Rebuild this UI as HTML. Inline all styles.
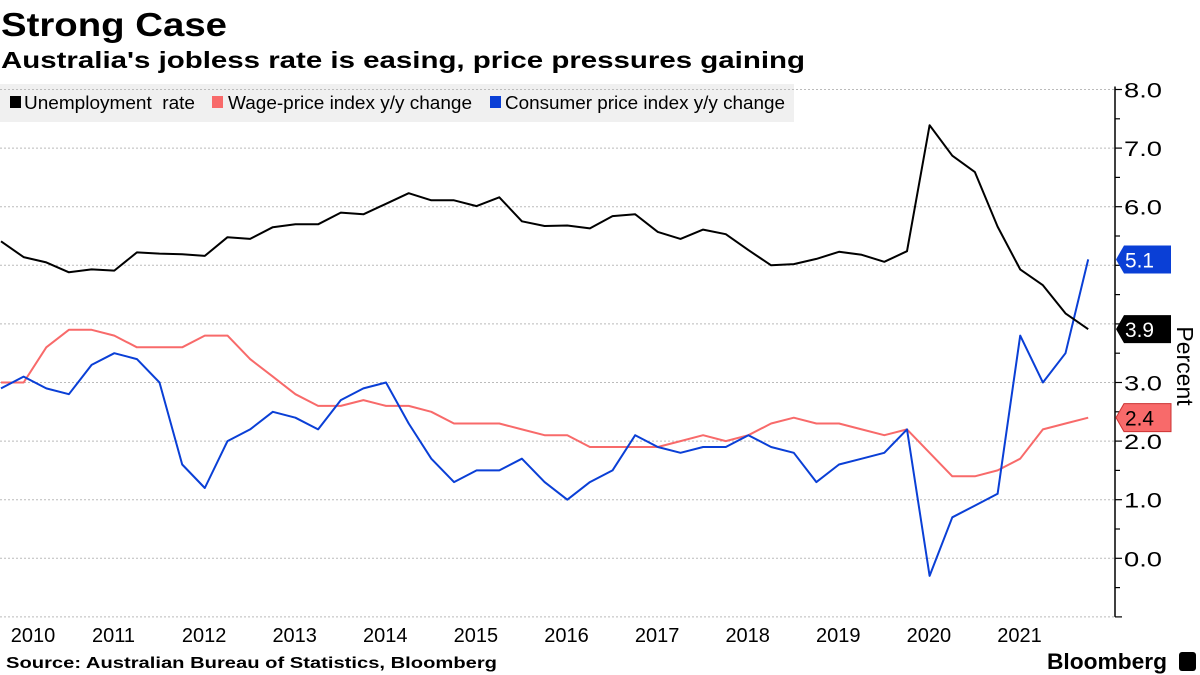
<!DOCTYPE html>
<html><head><meta charset="utf-8">
<style>
body{margin:0;background:#fff;width:1200px;height:675px;overflow:hidden;font-family:"Liberation Sans",sans-serif;}
svg{display:block}
</style></head>
<body>
<svg id="chart" width="1200" height="675" xmlns="http://www.w3.org/2000/svg">
<text x="1" y="36" font-size="33" font-weight="bold" fill="#000" textLength="226" lengthAdjust="spacingAndGlyphs">Strong Case</text>
<text x="1" y="68" font-size="23" font-weight="bold" fill="#000" textLength="804" lengthAdjust="spacingAndGlyphs">Australia's jobless rate is easing, price pressures gaining</text>
<g>
<rect x="0" y="84" width="794" height="38" fill="#f0f0f0"/>
<rect x="10" y="96" width="11" height="12" fill="#000"/>
<text x="24" y="109" font-size="18" fill="#000" textLength="171" lengthAdjust="spacingAndGlyphs">Unemployment&#160; rate</text>
<rect x="212" y="96" width="11" height="12" fill="#f86a6a"/>
<text x="228" y="109" font-size="18" fill="#000" textLength="244" lengthAdjust="spacingAndGlyphs">Wage-price index y/y change</text>
<rect x="490" y="96" width="11" height="12" fill="#0a3fd6"/>
<text x="505" y="109" font-size="18" fill="#000" textLength="280" lengthAdjust="spacingAndGlyphs">Consumer price index y/y change</text>
</g>
<g id="grid"></g>
<g id="series"></g>
<g id="axis"></g>
<text transform="translate(1177,366) rotate(90)" font-size="23" text-anchor="middle" fill="#000">Percent</text>
<text x="6" y="668" font-size="16" font-weight="bold" fill="#000" textLength="491" lengthAdjust="spacingAndGlyphs">Source: Australian Bureau of Statistics, Bloomberg</text>
<text x="1047" y="669" font-size="22" font-weight="bold" fill="#000" textLength="120" lengthAdjust="spacingAndGlyphs">Bloomberg</text>
<rect x="1179" y="652" width="17" height="19" rx="3" fill="#000"/>
</svg>
<script>
const years = ["2010","2011","2012","2013","2014","2015","2016","2017","2018","2019","2020","2021"];
const yTicks = [-1,0,1,2,3,4,5,6,7,8];
const unemployment = [5.41,5.14,5.05,4.88,4.93,4.91,5.22,5.20,5.19,5.16,5.48,5.45,5.65,5.70,5.70,5.90,5.87,6.05,6.23,6.11,6.11,6.01,6.16,5.75,5.67,5.68,5.63,5.84,5.87,5.57,5.45,5.61,5.53,5.26,5.00,5.02,5.11,5.23,5.18,5.06,5.24,7.39,6.87,6.59,5.66,4.93,4.66,4.18,3.91];
const wage = [3.0,3.0,3.6,3.9,3.9,3.8,3.6,3.6,3.6,3.8,3.8,3.4,3.1,2.8,2.6,2.6,2.7,2.6,2.6,2.5,2.3,2.3,2.3,2.2,2.1,2.1,1.9,1.9,1.9,1.9,2.0,2.1,2.0,2.1,2.3,2.4,2.3,2.3,2.2,2.1,2.2,1.8,1.4,1.4,1.5,1.7,2.2,2.3,2.4];
const cpi = [2.9,3.1,2.9,2.8,3.3,3.5,3.4,3.0,1.6,1.2,2.0,2.2,2.5,2.4,2.2,2.7,2.9,3.0,2.3,1.7,1.3,1.5,1.5,1.7,1.3,1.0,1.3,1.5,2.1,1.9,1.8,1.9,1.9,2.1,1.9,1.8,1.3,1.6,1.7,1.8,2.2,-0.3,0.7,0.9,1.1,3.8,3.0,3.5,5.1];

const NS="http://www.w3.org/2000/svg";
const axisX=1115;
function yScale(v){return 558.3-58.6*v;}
function xScale(i){return 1+i*22.65;}
function yearX(k){return 113.5+(k-1)*90.6;}
function mk(tag,attrs,parent){const e=document.createElementNS(NS,tag);for(const k in attrs)e.setAttribute(k,attrs[k]);parent.appendChild(e);return e;}
const grid=document.getElementById('grid'),axis=document.getElementById('axis'),series=document.getElementById('series');

yTicks.forEach(v=>{
  const g=mk('line',{x1:0,x2:axisX,y1:yScale(v),y2:yScale(v),stroke:'#bbb','stroke-width':1,'stroke-dasharray':'2,2'},grid);
  
  
});
const al=mk('line',{x1:axisX,x2:axisX,y1:yScale(8)-3,y2:yScale(-1),stroke:'#000','stroke-width':1.5},axis);


for(let v=-1;v<=8;v+=0.5){
  const major=Number.isInteger(v);
  const t=mk('line',{x1:axisX,x2:axisX+(major?7:5),y1:yScale(v),y2:yScale(v),stroke:'#000','stroke-width':1.2},axis);
  
  
}
yTicks.forEach(v=>{
  if(v<0)return;
  const t=mk('text',{x:axisX+9,y:yScale(v)+8,'font-size':21,fill:'#000',textLength:38,lengthAdjust:'spacingAndGlyphs'},axis);
  t.textContent=v.toFixed(1);
  
  
});
years.forEach((y,k)=>{
  const x=k===0?33:yearX(k);
  const t=mk('text',{x:x,y:642,'font-size':20,'text-anchor':'middle',fill:'#000'},axis);
  t.textContent=y;
  
  
});
function line(data,color,name){
  const d=data.map((v,i)=>(i?'L':'M')+xScale(i).toFixed(1)+','+yScale(v).toFixed(1)).join('');
  const p=mk('path',{d:d,fill:'none',stroke:color,'stroke-width':2,'stroke-linejoin':'round'},series);
  
  
}
line(wage,'#f86a6a','wage-line');
line(cpi,'#0a3fd6','cpi-line');
line(unemployment,'#000','unemployment-line');
function tag(v,bg,fg,name){
  const y=yScale(v);
  const p=mk('path',{d:`M${axisX+1},${y} L${axisX+9},${y-14} L${axisX+56},${y-14} L${axisX+56},${y+14} L${axisX+9},${y+14} Z`,fill:bg,stroke:bg==='#f86a6a'?'#c33':'none','stroke-width':1},axis);
  
  
  const t=mk('text',{x:axisX+10,y:y+8,'font-size':21,fill:fg,textLength:29,lengthAdjust:'spacingAndGlyphs'},axis);
  t.textContent=v.toFixed(1);
  
  
}
tag(cpi[cpi.length-1],'#0a3fd6','#fff','cpi-value-tag');
tag(unemployment[unemployment.length-1],'#000','#fff','unemployment-value-tag');
tag(wage[wage.length-1],'#f86a6a','#000','wage-value-tag');
</script>
</body></html>
